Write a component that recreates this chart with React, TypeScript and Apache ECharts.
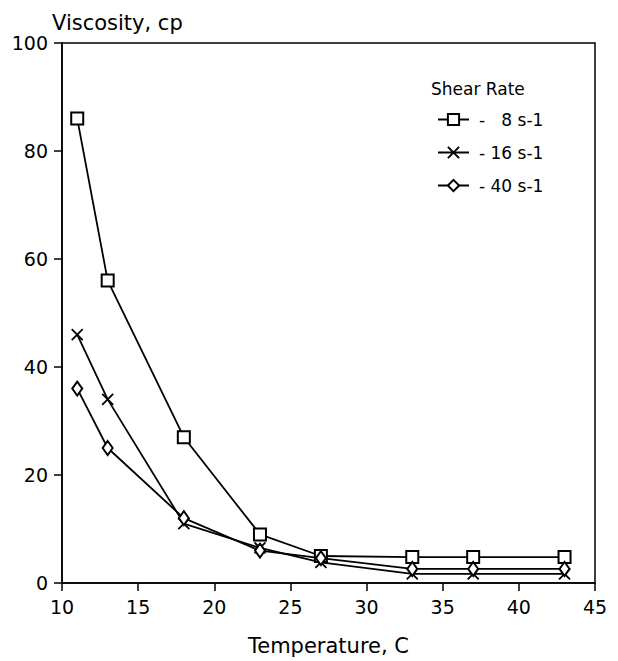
import React, { useEffect, useRef } from "react";
import * as echarts from "echarts";

const temperatures = [11, 13, 18, 23, 27, 33, 37, 43];
const shear8 = [86, 56, 27, 9, 5, 4.8, 4.8, 4.8];
const shear16 = [46, 34, 11, 6.5, 3.8, 1.7, 1.7, 1.7];
const shear40 = [36, 25, 12, 6, 4.6, 2.6, 2.6, 2.6];
const seriesNames = ["- \u20078 s-1", "- 16 s-1", "- 40 s-1"];
const xTicks = { min: 10, max: 45, interval: 5 };
const yTicks = { min: 0, max: 100, interval: 20 };

const FONT = "DejaVu Sans";
const crossPath = "path://M0,0L10,10M10,0L0,10";

export default function App() {
  const ref = useRef<HTMLDivElement>(null);
  useEffect(() => {
    if (!ref.current) return;
    const chart = echarts.init(ref.current, undefined, { renderer: "svg" });
    const pair = (vals: number[]) => temperatures.map((t, i) => [t, vals[i]]);
    const common = {
      type: "line" as const,
      lineStyle: { color: "#000", width: 1.8 },
      itemStyle: { color: "#000", borderColor: "#000", borderWidth: 1.7 },
      showSymbol: true,
    };
    chart.setOption({
      animation: false,
      backgroundColor: "#fff",
      textStyle: { fontFamily: FONT, color: "#000" },
      grid: {
        left: 62,
        right: 23,
        top: 43,
        bottom: 78,
        show: true,
        borderColor: "#000",
        borderWidth: 1.5,
      },
      graphic: [
        {
          type: "text",
          left: 431,
          top: 80,
          style: { text: "Shear Rate", font: `17px '${FONT}'`, fill: "#000" },
        },
      ],
      legend: {
        orient: "vertical",
        left: 432,
        top: 106,
        itemWidth: 31,
        itemHeight: 14,
        itemGap: 16,
        textStyle: { fontFamily: FONT, fontSize: 17, color: "#000", padding: [0, 0, 0, 5] },
        data: seriesNames,
      },
      xAxis: {
        type: "value",
        min: xTicks.min,
        max: xTicks.max,
        interval: xTicks.interval,
        name: "Temperature, C",
        nameLocation: "middle",
        nameGap: 52,
        nameTextStyle: { fontFamily: FONT, fontSize: 21, color: "#000" },
        axisLine: { show: true, onZero: false, lineStyle: { color: "#000", width: 1.5 } },
        axisTick: { show: true, inside: false, length: 8, lineStyle: { color: "#000", width: 1.5 } },
        axisLabel: { fontFamily: FONT, fontSize: 19, color: "#000", margin: 14 },
        splitLine: { show: false },
      },
      yAxis: {
        type: "value",
        min: yTicks.min,
        max: yTicks.max,
        interval: yTicks.interval,
        name: "Viscosity, cp",
        nameLocation: "end",
        nameGap: 10,
        nameTextStyle: { fontFamily: FONT, fontSize: 21, color: "#000", align: "left", padding: [0, 0, 0, -10] },
        axisLine: { show: true, onZero: false, lineStyle: { color: "#000", width: 1.5 } },
        axisTick: { show: true, inside: false, length: 8, lineStyle: { color: "#000", width: 1.5 } },
        axisLabel: { fontFamily: FONT, fontSize: 19, color: "#000", margin: 14 },
        splitLine: { show: false },
      },
      series: [
        { ...common, name: seriesNames[0], data: pair(shear8), symbol: "emptyRect", symbolSize: 12 },
        {
          ...common,
          name: seriesNames[1],
          data: pair(shear16),
          symbol: crossPath,
          symbolSize: 11,
          itemStyle: { color: "#000", borderColor: "#000", borderWidth: 1.8 },
        },
        { ...common, name: seriesNames[2], data: pair(shear40), symbol: "emptyDiamond", symbolSize: [10, 14] },
      ],
    });
    return () => chart.dispose();
  }, []);
  return (
    <div
      ref={ref}
      style={{ position: "fixed", left: 0, top: 0, width: 618, height: 661, background: "#fff" }}
    />
  );
}
